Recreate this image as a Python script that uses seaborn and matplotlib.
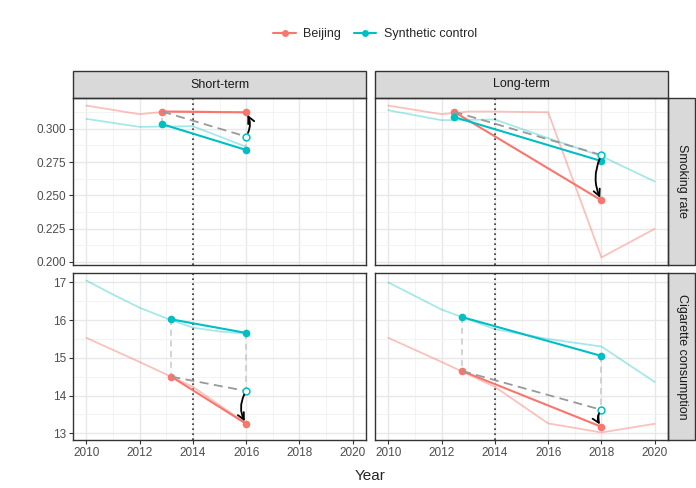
import numpy as np
import pandas as pd
import matplotlib
matplotlib.use('Agg')
import matplotlib.pyplot as plt
from matplotlib.patches import Rectangle
from matplotlib.lines import Line2D
import seaborn as sns

RED = '#F8766D'
TEAL = '#00BFC4'

# faint yearly series (background lines)
bj_rate_years = [2010, 2012, 2013, 2014, 2016, 2018, 2020]
bj_rate = [0.3175, 0.311, 0.313, 0.313, 0.3125, 0.2033, 0.2248]
sc_rate_short_years = [2010, 2012, 2014, 2016]
sc_rate_short = [0.3075, 0.3015, 0.302, 0.2865]
sc_rate_long_years = [2010, 2012, 2014, 2016, 2018, 2020]
sc_rate_long = [0.314, 0.3065, 0.307, 0.293, 0.2795, 0.2604]

bj_cig_years = [2010, 2012, 2014, 2016, 2018, 2020]
bj_cig = [15.53, 14.89, 14.23, 13.26, 13.02, 13.25]
sc_cig_short_years = [2010, 2011, 2012, 2013, 2014, 2015, 2016]
sc_cig_short = [17.05, 16.68, 16.33, 16.05, 15.80, 15.70, 15.64]
sc_cig_long_years = [2010, 2012, 2014, 2016, 2018, 2020]
sc_cig_long = [17.0, 16.28, 15.76, 15.5, 15.30, 14.36]

# pre / post period averages
rate_short_x = [2012.85, 2016]
rate_short_bj = [0.313, 0.3124]
rate_short_sc = [0.3035, 0.2841]
rate_short_cf = 0.2942

rate_long_x = [2012.45, 2018]
rate_long_bj = [0.313, 0.2462]
rate_long_sc = [0.309, 0.2758]
rate_long_cf = 0.2803

cig_short_x = [2013.19, 2016]
cig_short_bj = [14.50, 13.25]
cig_short_sc = [16.02, 15.66]
cig_short_cf = 14.12

cig_long_x = [2012.77, 2018]
cig_long_bj = [14.65, 13.17]
cig_long_sc = [16.08, 15.05]
cig_long_cf = 13.62

terms = ['Short-term', 'Long-term']
outcomes = ['Smoking rate', 'Cigarette consumption']

panels = {
    (0, 0): dict(bj=(bj_rate_years, bj_rate, 2016), sc=(sc_rate_short_years, sc_rate_short),
                 x=rate_short_x, pbj=rate_short_bj, psc=rate_short_sc, cf=rate_short_cf, rad=0.3),
    (0, 1): dict(bj=(bj_rate_years, bj_rate, 2020), sc=(sc_rate_long_years, sc_rate_long),
                 x=rate_long_x, pbj=rate_long_bj, psc=rate_long_sc, cf=rate_long_cf, rad=0.25),
    (1, 0): dict(bj=(bj_cig_years, bj_cig, 2016), sc=(sc_cig_short_years, sc_cig_short),
                 x=cig_short_x, pbj=cig_short_bj, psc=cig_short_sc, cf=cig_short_cf, rad=0.3),
    (1, 1): dict(bj=(bj_cig_years, bj_cig, 2020), sc=(sc_cig_long_years, sc_cig_long),
                 x=cig_long_x, pbj=cig_long_bj, psc=cig_long_sc, cf=cig_long_cf, rad=0.4),
}

sns.set_theme(style='white')
plt.rcParams['font.family'] = ['Liberation Sans', 'DejaVu Sans']

fig = plt.figure(figsize=(6.96, 4.88), dpi=100)
W, H = 696, 488
lefts = [73, 375]
tops = [98, 273]
pw, ph = 293, 167

ylims = [(0.1976, 0.3232), (12.82, 17.25)]
yticks = [[0.200, 0.225, 0.250, 0.275, 0.300], [13, 14, 15, 16, 17]]
yminor = [[0.2125, 0.2375, 0.2625, 0.2875, 0.3125], [13.5, 14.5, 15.5, 16.5]]

for (r, c), p in panels.items():
    ax = fig.add_axes([lefts[c] / W, 1 - (tops[r] + ph) / H, pw / W, ph / H])
    ax.set_xlim(2009.5, 2020.5)
    ax.set_ylim(*ylims[r])
    ax.set_xticks(range(2010, 2021, 2))
    ax.set_xticks(range(2011, 2020, 2), minor=True)
    ax.set_yticks(yticks[r])
    ax.set_yticks(yminor[r], minor=True)
    if r == 0:
        ax.set_yticklabels([f'{v:.3f}' for v in yticks[r]])
    ax.grid(which='major', color='#E8E8E8', lw=1.0)
    ax.grid(which='minor', color='#F1F1F1', lw=0.6)
    ax.set_axisbelow(True)
    for s in ax.spines.values():
        s.set_color('#333333')
        s.set_linewidth(1.0)
    ax.tick_params(which='major', length=3, width=0.8, color='#333333',
                   labelsize=8.5, labelcolor='#4D4D4D', pad=2,
                   bottom=(r == 1), labelbottom=(r == 1),
                   left=(c == 0), labelleft=(c == 0))
    ax.tick_params(which='minor', length=0)

    # background lines
    byrs, bvals, bmax = p['bj']
    keep = [i for i, y in enumerate(byrs) if y <= bmax]
    sns.lineplot(x=[byrs[i] for i in keep], y=[bvals[i] for i in keep], color=RED,
                 alpha=0.45, lw=1.3, ax=ax, zorder=2)
    sns.lineplot(x=p['sc'][0], y=p['sc'][1], color=TEAL, alpha=0.35, lw=1.3, ax=ax, zorder=2)

    # vertical connectors
    ax.vlines(p['x'], [p['psc'][0], p['psc'][1]], [p['pbj'][0], p['cf']],
              colors='#C8C8C8', linestyles=(0, (4, 3)), lw=1.1, zorder=2.5)

    ax.axvline(2014, color='#333333', ls=(0, (1, 2)), lw=1.2, zorder=3)

    # pre/post lines
    sns.lineplot(x=p['x'], y=p['pbj'], color=RED, lw=1.5, marker='o', markersize=5.5,
                 markeredgewidth=0, ax=ax, zorder=4)
    sns.lineplot(x=p['x'], y=p['psc'], color=TEAL, lw=1.5, marker='o', markersize=5.5,
                 markeredgewidth=0, ax=ax, zorder=4)
    sns.lineplot(x=p['x'], y=[p['pbj'][0], p['cf']], color='#999999', lw=1.3,
                 linestyle=(0, (5, 3)), ax=ax, zorder=4.5)
    sns.scatterplot(x=[p['x'][1]], y=[p['cf']], facecolor='white', edgecolor=TEAL,
                    s=24, linewidth=1.1, ax=ax, zorder=5)

    ax.annotate('', xy=(p['x'][1], p['pbj'][1]), xytext=(p['x'][1], p['cf']),
                arrowprops=dict(arrowstyle='->,head_length=0.4,head_width=0.2',
                                connectionstyle=f"arc3,rad={p['rad']}",
                                color='black', lw=1.3, shrinkA=3, shrinkB=2),
                zorder=6)

    ax.set_xlabel('')
    ax.set_ylabel('')

    if r == 0:
        sh = 27 / ph
        ax.add_patch(Rectangle((0, 1), 1, sh, transform=ax.transAxes, clip_on=False,
                               fc='#D9D9D9', ec='#333333', lw=1.0))
        ax.text(0.5, 1 + sh / 2, terms[c], transform=ax.transAxes, ha='center',
                va='center', fontsize=9, color='#1A1A1A')
    if c == 1:
        sw = 27 / pw
        ax.add_patch(Rectangle((1, 0), sw, 1, transform=ax.transAxes, clip_on=False,
                               fc='#D9D9D9', ec='#333333', lw=1.0))
        ax.text(1 + sw / 2, 0.5, outcomes[r], transform=ax.transAxes, ha='center',
                va='center', rotation=270, fontsize=9, color='#1A1A1A')

fig.text(370 / W, 1 - 476 / H, 'Year', ha='center', va='center', fontsize=11)

handles = [Line2D([0], [0], color=RED, lw=1.5, marker='o', ms=5, mew=0),
           Line2D([0], [0], color=TEAL, lw=1.5, marker='o', ms=5, mew=0)]
fig.legend(handles, ['Beijing', 'Synthetic control'], loc='center',
           bbox_to_anchor=(375 / W, 1 - 34 / H), ncol=2, frameon=False, fontsize=9,
           handlelength=1.8, columnspacing=1.0, handletextpad=0.6)

fig.savefig('out.png', dpi=100)
